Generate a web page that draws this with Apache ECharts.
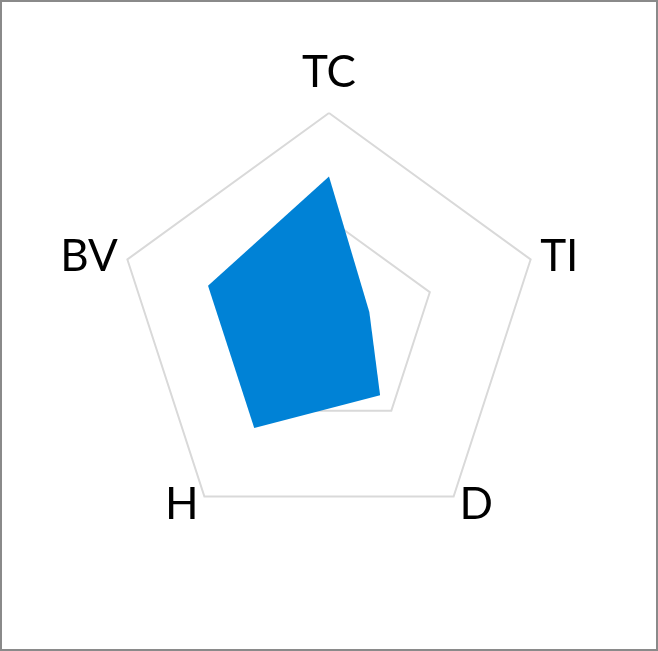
<!DOCTYPE html>
<html><head><meta charset="utf-8">
<script src="https://cdn.jsdelivr.net/npm/echarts@6/dist/echarts.min.js"></script>
<style>
html,body{margin:0;padding:0;background:#fff;}
#wrap{position:absolute;left:0;top:0;width:654px;height:647px;border:2px solid #8a8a8a;}
#chart{width:654px;height:647px;}
</style></head><body>
<div id="wrap"><div id="chart"></div></div>
<script>
// indicators listed in ECharts' (counter-clockwise) order starting at the top
const indicators = ['TC','BV','H','D','TI'];
const maxValue = 100;
const values = [70, 60, 60, 41, 20];

const chart = echarts.init(document.getElementById('chart'));
chart.setOption({
  animation:false,
  radar:{
    center:[327,323],
    radius:212,
    startAngle:90,
    splitNumber:2,
    shape:'polygon',
    indicator: indicators.map(n=>({name:n,max:maxValue})),
    axisName:{
      color:'#000',fontSize:44,fontFamily:'Lato',fontWeight:'normal',
      formatter:(n)=> n===indicators[0] ? '{top|'+n+'}' : '{n|'+n+'}',
      rich:{
        top:{fontSize:44,fontFamily:'Lato',color:'#000',padding:[0,0,8,0]},
        n:{fontSize:44,fontFamily:'Lato',color:'#000'}
      }
    },
    nameGap:10,
    axisLine:{show:false},
    axisTick:{show:false},
    axisLabel:{show:false},
    splitArea:{show:false},
    splitLine:{lineStyle:{color:'#d9d9d9',width:2}}
  },
  series:[{
    type:'radar',
    symbol:'none',
    lineStyle:{width:0},
    areaStyle:{color:'#0082d6',opacity:1},
    data:[{value:values}]
  }]
});
</script></body></html>
